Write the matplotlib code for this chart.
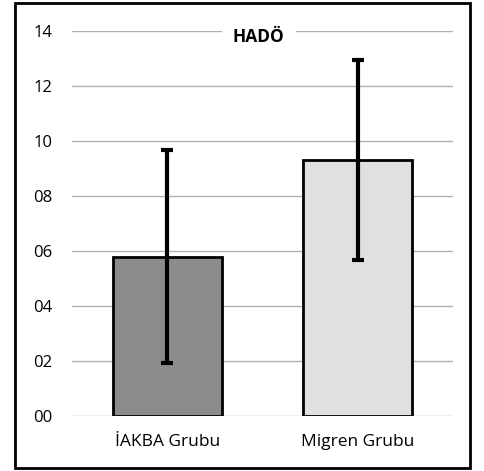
import matplotlib.pyplot as plt
from matplotlib.patches import Rectangle

# veriler
groups = ["İAKBA Grubu", "Migren Grubu"]
means = [5.8, 9.3]
sds = [3.88, 3.63]
colors = ["#8c8c8c", "#e0e0e0"]
yticks = [0, 2, 4, 6, 8, 10, 12, 14]

plt.rcParams['font.family'] = ['Open Sans', 'DejaVu Sans']

fig = plt.figure(figsize=(4.84, 4.71), dpi=100)
ax = fig.add_axes([72/484, 1 - 416/471, 381/484, 385/471])

x = range(len(groups))
ax.bar(x, means, width=0.57, color=colors, edgecolor="black", linewidth=2, zorder=2)
ax.errorbar(x, means, yerr=sds, fmt="none", ecolor="black", elinewidth=3,
            capsize=4.5, capthick=3, zorder=3)

ax.set_xlim(-0.5, 1.5)
ax.set_ylim(0, 14)
ax.set_yticks(yticks)
ax.set_yticklabels(["%02d" % v for v in yticks], fontsize=12)
ax.set_xticks(list(x))
ax.set_xticklabels(groups, fontsize=12.5)
ax.tick_params(axis="y", length=0, pad=14)
ax.tick_params(axis="x", length=0, pad=13)
ax.grid(axis="y", color="#b0b0b0", linewidth=1, zorder=0)
for s in ax.spines.values():
    s.set_visible(False)
ax.set_axisbelow(True)

ax.text(0.48, 13.8, "HADÖ", fontsize=12.5, fontweight="bold", ha="center", va="center",
        bbox=dict(facecolor="white", edgecolor="none", pad=8), zorder=4)

# çerçeve
fig.patches.append(Rectangle((15/484, 3/471), 455/484, 465/471, transform=fig.transFigure,
                             fill=False, edgecolor="black", linewidth=2))

fig.savefig("out.png", dpi=100)
